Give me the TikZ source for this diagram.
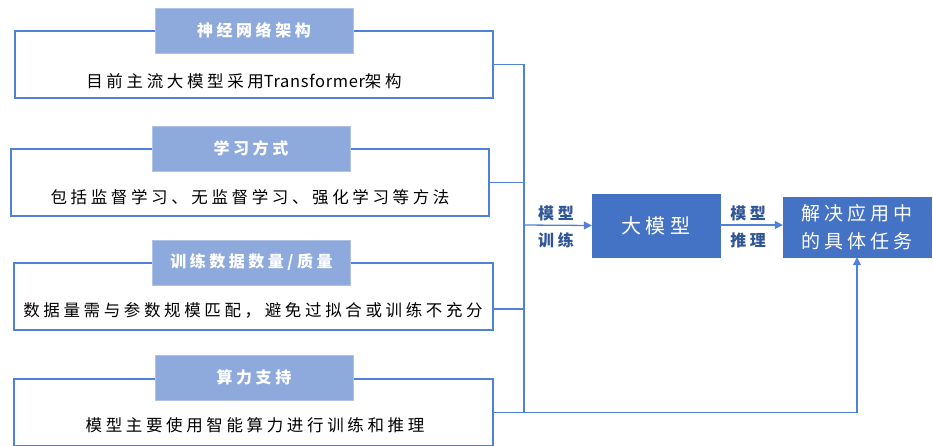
\documentclass[tikz,border=0pt]{standalone}
\usepackage{fontspec}
\setmainfont{Noto Sans CJK SC}
\newfontfamily\bodyfont[LetterSpace=22]{Noto Sans CJK SC}
\newfontfamily\latinfont[LetterSpace=4]{Noto Sans CJK SC}
\newfontfamily\titlefont[LetterSpace=22]{Noto Sans CJK SC}
\usetikzlibrary{arrows.meta}
\definecolor{lineblue}{HTML}{4F81D9}
\definecolor{titlefill}{HTML}{8EA9DB}
\definecolor{mainfill}{HTML}{4472C4}
\definecolor{labelblue}{HTML}{2F5597}
\tikzset{
  outerbox/.style={draw=lineblue, line width=1.3pt, fill=white, inner sep=0pt},
  titlebox/.style={fill=titlefill, draw=titlefill!70, line width=0.6pt, text=white,
    minimum width=198pt, minimum height=45pt, inner sep=0pt, font=\titlefont\bfseries\fontsize{16pt}{18pt}\selectfont},
  bodytext/.style={inner sep=0pt, text=black, font=\bodyfont\fontsize{16.5pt}{18pt}\selectfont},
  mainbox/.style={fill=mainfill, draw=mainfill, text=white, inner sep=0pt, align=center},
  conn/.style={draw=lineblue, line width=1.3pt},
  arr/.style={conn, -{Triangle[width=8pt,length=8pt]}},
  steplabel/.style={text=labelblue, align=center, inner sep=0pt,
    font=\titlefont\bfseries\fontsize{16pt}{27pt}\selectfont},
}
\begin{document}
\begin{tikzpicture}[x=1pt,y=-1pt]
\useasboundingbox (0,0) rectangle (933,445);
\clip (0,0) rectangle (933,445);
% outer boxes
\node[outerbox, minimum width=478pt, minimum height=67pt] (b1) at (254,64.5) {};
\node[outerbox, minimum width=478pt, minimum height=67pt] (b2) at (250,182.5) {};
\node[outerbox, minimum width=479pt, minimum height=67pt] (b3) at (253.5,296.5) {};
\node[outerbox, minimum width=479pt, minimum height=67pt] (b4) at (253.5,412.5) {};
% titles
\node[titlebox] (h1) at (254,30.5) {神经网络架构};
\node[titlebox] (h2) at (251,148.5) {学习方式};
\node[titlebox] (h3) at (251.5,262.5) {训练数据数量/质量};
\node[titlebox] (h4) at (254,377.5) {算力支持};
% body texts
\node[bodytext] (t1) at (244,81) {目前主流大模型采用{\latinfont Transformer}架构};
\node[bodytext] (t2) at (250,197) {包括监督学习、无监督学习、强化学习等方法};
\node[bodytext] (t3) at (253,310) {数据量需与参数规模匹配，避免过拟合或训练不充分};
\node[bodytext] (t4) at (255,425) {模型主要使用智能算力进行训练和推理};
% main boxes
\node[mainbox, minimum width=128pt, minimum height=63pt,
  font=\titlefont\fontsize{20pt}{24pt}\selectfont] (model) at (656,225.5) {大模型};
\node[mainbox, minimum width=148pt, minimum height=60pt,
  font=\titlefont\fontsize{19pt}{28pt}\selectfont] (task) at (857,227) {解决应用中\\的具体任务};
% bus
\coordinate (bus) at (524,225);
\draw[conn] (b1.east) -- (b1.east -| bus) -- (b4.east -| bus);
\draw[conn] (b2.east) -- (b2.east -| bus);
\draw[conn] ([yshift=-12.5pt]b3.east) -- ([yshift=-12.5pt]b3.east -| bus);
\draw[arr] (bus) -- (model.west);
\draw[arr] (b4.east) -- (b4.east -| task.south) -- (task.south);
\draw[arr] (model.east |- bus) -- (task.west |- bus);
% labels
\node[steplabel] (l1) at (556,226.5) {模型\\训练};
\node[steplabel] (l2) at (748,226.5) {模型\\推理};
\end{tikzpicture}
\end{document}
